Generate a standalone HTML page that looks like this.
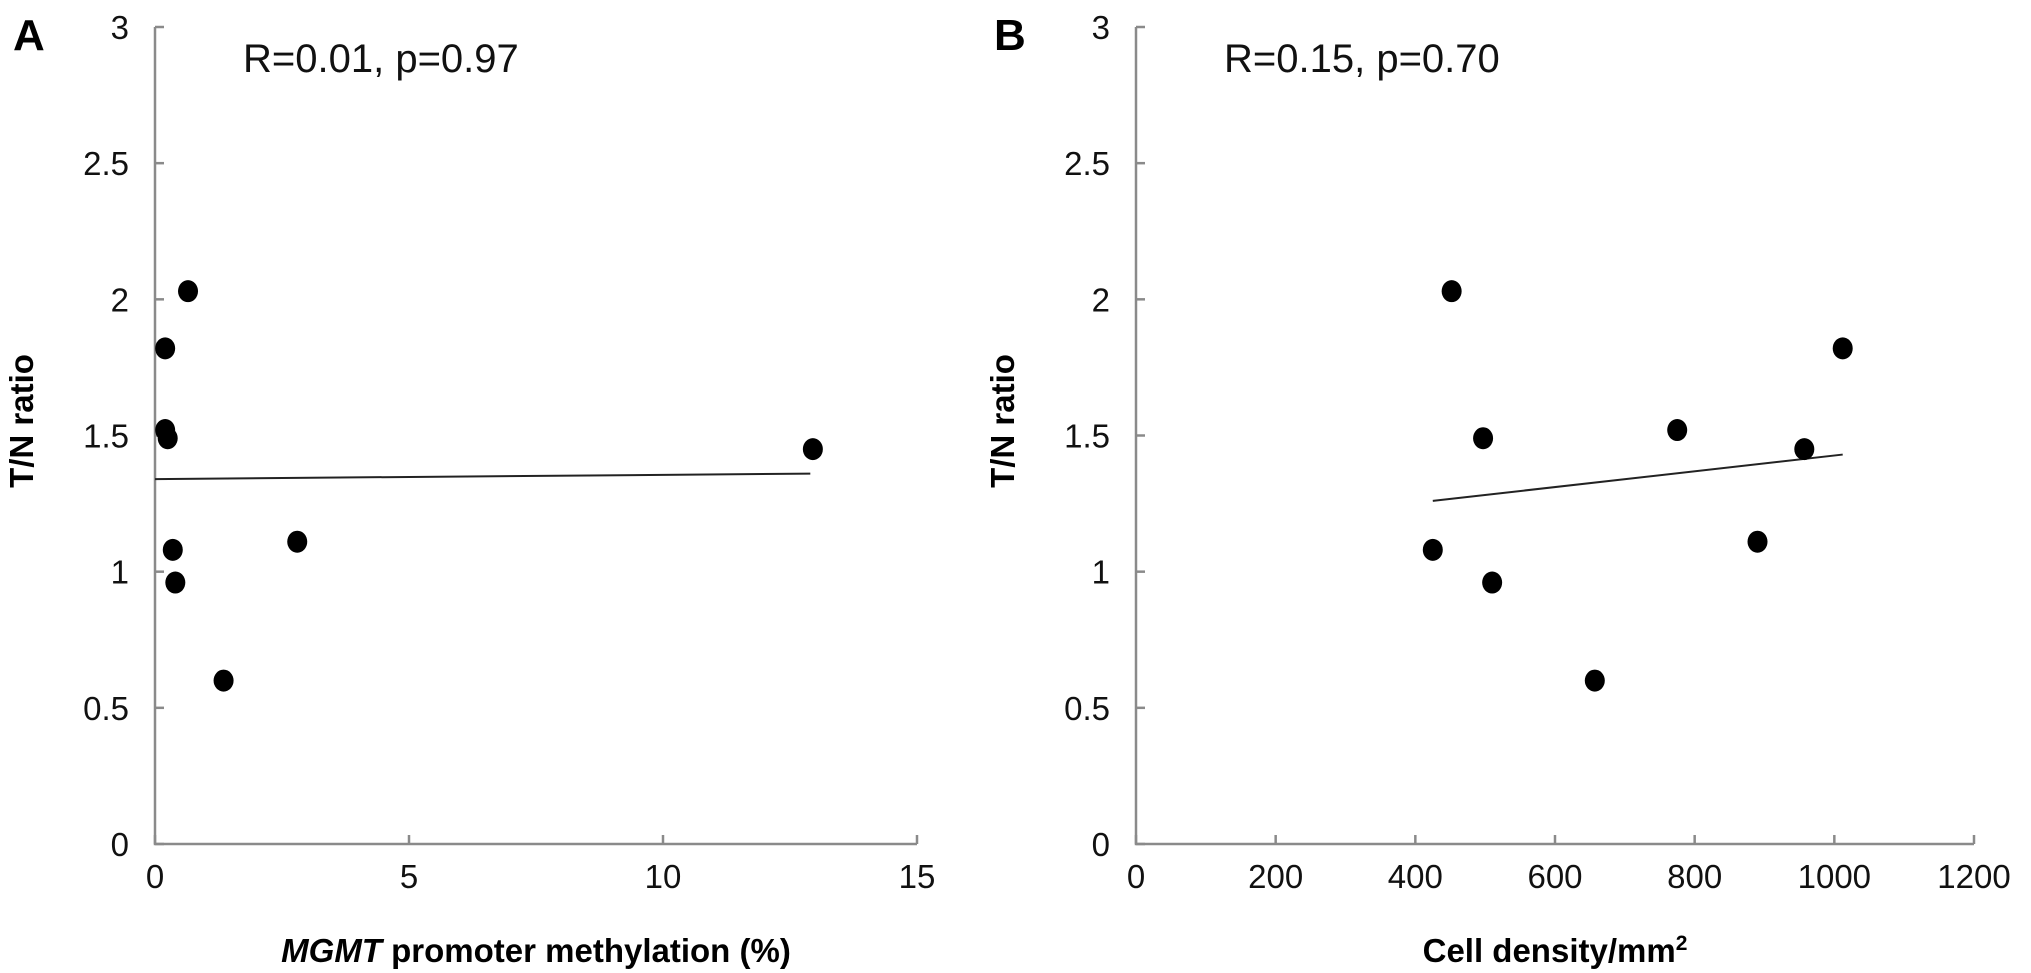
<!DOCTYPE html>
<html><head><meta charset="utf-8"><style>
html,body{margin:0;padding:0;background:#fff;width:2031px;height:973px;overflow:hidden}
svg text{font-family:"Liberation Sans",sans-serif}
</style></head><body>
<svg id="chart" width="2031" height="973" xmlns="http://www.w3.org/2000/svg"></svg>
<script>
const aX=[0.2,0.2,0.25,0.35,0.4,0.65,1.35,2.8,12.95];
const aY=[1.82,1.52,1.49,1.08,0.96,2.03,0.6,1.11,1.45];
const aLine=[[0,1.34],[12.9,1.36]];
const aXTicks=[0,5,10,15];
const bX=[425,452,497,510,657,775,890,957,1012];
const bY=[1.08,2.03,1.49,0.96,0.6,1.52,1.11,1.45,1.82];
const bLine=[[425,1.26],[1012,1.43]];
const bXTicks=[0,200,400,600,800,1000,1200];
const yTicks=[0,0.5,1,1.5,2,2.5,3];
const yTickLabels=["0","0.5","1","1.5","2","2.5","3"];

const svg=document.getElementById('chart');
const NS='http://www.w3.org/2000/svg';
function mk(tag,attrs,parent){const e=document.createElementNS(NS,tag);for(const k in attrs)e.setAttribute(k,attrs[k]);(parent||svg).appendChild(e);return e;}

function panel(p){
  const g=mk('g',{});
  
  
  const y0=844,y1=27;
  const sx=v=>p.x0+(v-p.xmin)/(p.xmax-p.xmin)*(p.x1-p.x0);
  const sy=v=>y0-(v/3)*(y0-y1);
  const ax=mk('path',{d:`M${p.x0} ${y1} V${y0} H${p.x1}`,stroke:'#8a8a8a','stroke-width':2.5,fill:'none'},g);
  
  
  yTicks.forEach((t,i)=>{
    const y=sy(t);
    mk('line',{x1:p.x0,x2:p.x0+9,y1:y,y2:y,stroke:'#8a8a8a','stroke-width':2.5},g);
    const tx=mk('text',{x:p.x0-26,y:y+12,'text-anchor':'end','font-size':33,fill:'#111'},g);
    tx.textContent=yTickLabels[i];
    
    
  });
  p.xt.forEach(t=>{
    const x=sx(t);
    mk('line',{x1:x,x2:x,y1:y0,y2:y0-9,stroke:'#8a8a8a','stroke-width':2.5},g);
    const tx=mk('text',{x:x,y:888,'text-anchor':'middle','font-size':33,fill:'#111'},g);
    tx.textContent=String(t);
    
    
  });
  const ln=mk('line',{x1:sx(p.line[0][0]),y1:sy(p.line[0][1]),x2:sx(p.line[1][0]),y2:sy(p.line[1][1]),stroke:'#222','stroke-width':2},g);
  
  
  p.xs.forEach((v,i)=>{
    const c=mk('ellipse',{cx:sx(v),cy:sy(p.ys[i]),rx:10,ry:11,fill:'#000'},g);
    
    
  });
  const L=mk('text',{x:p.x0-142,y:50,'font-size':44,'font-weight':'bold',fill:'#000'},g);
  L.textContent=p.letter;
  
  
  const st=mk('text',{x:p.x0+88,y:72,'font-size':40,fill:'#111'},g);
  st.textContent=p.stat;
  
  
  const yt=mk('text',{x:0,y:0,transform:`translate(${p.x0-122},421) rotate(-90)`,'text-anchor':'middle','font-size':33,'font-weight':'bold',fill:'#000'},g);
  yt.textContent='T/N ratio';
  
  
  const xt=mk('text',{x:(p.x0+p.x1)/2,y:962,'text-anchor':'middle','font-size':33,'font-weight':'bold',fill:'#000'},g);
  xt.innerHTML=p.xtitle;
  
  
}
panel({name:'panel-a',letter:'A',x0:155,x1:917,xmin:0,xmax:15,xt:aXTicks,xs:aX,ys:aY,line:aLine,stat:'R=0.01, p=0.97',
  xtitle:'<tspan font-style="italic">MGMT</tspan> promoter methylation (%)'});
panel({name:'panel-b',letter:'B',x0:1136,x1:1974,xmin:0,xmax:1200,xt:bXTicks,xs:bX,ys:bY,line:bLine,stat:'R=0.15, p=0.70',
  xtitle:'Cell density/mm<tspan font-size="21" dy="-12">2</tspan>'});
</script>
</body></html>
